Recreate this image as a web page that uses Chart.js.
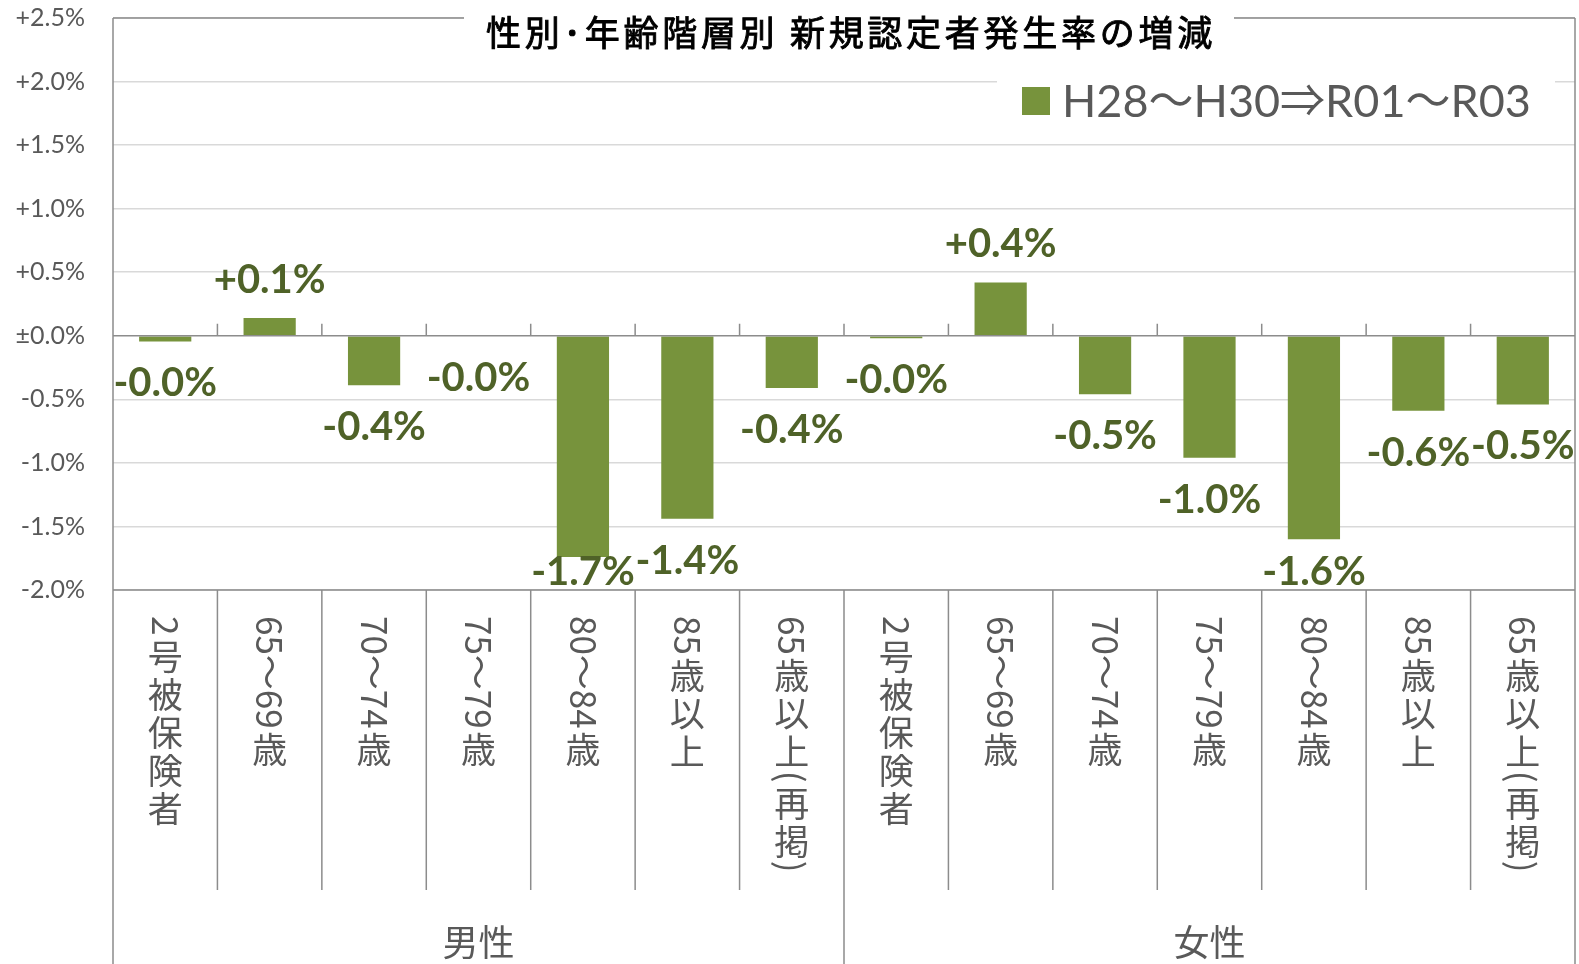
<!DOCTYPE html>
<html lang="ja">
<head>
<meta charset="utf-8">
<title>性別･年齢階層別 新規認定者発生率の増減</title>
<script src="https://cdn.jsdelivr.net/npm/chart.js@4.4.1/dist/chart.umd.min.js"></script>
<style>
html, body { margin: 0; padding: 0; background: #fff; }
#wrap { width: 1579px; height: 964px; }
</style>
</head>
<body>
<div id="wrap"><canvas id="c" width="1579" height="964"></canvas></div>
<script>
// data
var chartTitle = '性別･年齢階層別 新規認定者発生率の増減';
var seriesName = 'H28～H30⇒R01～R03';
var groups = ['男性', '女性'];
var groupSizes = [7, 7];
var ageClasses = ['2号被保険者', '65～69歳', '70～74歳', '75～79歳', '80～84歳', '85歳以上', '65歳以上(再掲)'];
var categories = ageClasses.concat(ageClasses);
var rates = [-0.045, 0.14, -0.39, -0.005, -1.74, -1.44, -0.41, -0.02, 0.42, -0.46, -0.96, -1.60, -0.59, -0.54];
var yTicks = [-2.0, -1.5, -1.0, -0.5, 0, 0.5, 1.0, 1.5, 2.0, 2.5];

var GREY = '#595959';
var LINE = '#8c8c8c';
var BAR = '#77933c';
var LABEL = '#4f6228';

function fmtPct(v) {
  if (v === 0) return '±0.0%';
  return (v > 0 ? '+' : '') + v.toFixed(1) + '%';
}

// upright in vertical writing: kana / kanji, everything else is turned 90deg
function isUpright(ch) {
  return /[\u3040-\u30ff\u3400-\u9fff\uf900-\ufaff]/.test(ch);
}

function drawVertical(ctx, text, cx, top, adv) {
  var yy = top, run = '';
  function flush() {
    if (!run) return;
    ctx.save();
    ctx.translate(cx, yy);
    ctx.rotate(Math.PI / 2);
    ctx.textAlign = 'left';
    ctx.textBaseline = 'middle';
    ctx.fillText(run, 0, 0);
    ctx.restore();
    yy += ctx.measureText(run).width + 2;
    run = '';
  }
  for (var i = 0; i < text.length; i++) {
    var ch = text[i];
    if (isUpright(ch)) {
      flush();
      ctx.textAlign = 'center';
      ctx.textBaseline = 'middle';
      ctx.fillText(ch, cx, yy + adv / 2);
      yy += adv;
    } else {
      run += ch;
    }
  }
  flush();
}

var decor = {
  id: 'decor',
  afterDatasetsDraw: function(chart) {
    var ctx = chart.ctx, a = chart.chartArea;
    var xs = chart.scales.x, ys = chart.scales.y;
    var H = chart.height;
    var n = categories.length;
    var y0 = ys.getPixelForValue(0);
    var bound = function(i) { return (xs.getPixelForValue(i - 1) + xs.getPixelForValue(i)) / 2; };
    var groupEnds = {}, cum = 0;
    groupSizes.forEach(function(g) { cum += g; groupEnds[cum] = true; });

    ctx.save();
    // frame, zero line, ticks, separators
    ctx.strokeStyle = LINE;
    ctx.lineWidth = 1.5;
    ctx.beginPath();
    ctx.moveTo(a.left, a.top); ctx.lineTo(a.right, a.top);
    ctx.moveTo(a.left, a.top); ctx.lineTo(a.left, H);
    ctx.moveTo(a.right, a.top); ctx.lineTo(a.right, H);
    ctx.moveTo(a.left, a.bottom); ctx.lineTo(a.right, a.bottom);
    ctx.moveTo(a.left, y0); ctx.lineTo(a.right, y0);
    for (var i = 1; i < n; i++) {
      var xb = bound(i);
      ctx.moveTo(xb, y0 - 12); ctx.lineTo(xb, y0);
      ctx.moveTo(xb, a.bottom); ctx.lineTo(xb, groupEnds[i] ? H : a.bottom + 300);
    }
    ctx.stroke();

    // data labels
    ctx.font = 'bold 40px Lato, "Noto Sans", sans-serif';
    ctx.fillStyle = LABEL;
    ctx.textAlign = 'center';
    ctx.textBaseline = 'middle';
    rates.forEach(function(v, i) {
      var px = xs.getPixelForValue(i);
      var pe = ys.getPixelForValue(v);
      var py = v > 0 ? pe - 38 : Math.min(pe + 42, a.bottom - 18);
      ctx.fillText(fmtPct(v), px, py);
    });

    // category labels, vertical
    ctx.fillStyle = GREY;
    ctx.font = '35px "Noto Sans CJK JP", sans-serif';
    categories.forEach(function(c, i) {
      drawVertical(ctx, c, xs.getPixelForValue(i), a.bottom + 26, 38);
    });

    // group labels
    ctx.font = '36px "Noto Sans CJK JP", sans-serif';
    ctx.textAlign = 'center';
    ctx.textBaseline = 'middle';
    var start = 0;
    groups.forEach(function(g, k) {
      var end = start + groupSizes[k];
      var gx = (bound(start) + bound(end)) / 2;
      if (start === 0) gx = (a.left + bound(end)) / 2;
      if (end === n) gx = (bound(start) + a.right) / 2;
      ctx.fillText(g, gx, a.bottom + 352);
      start = end;
    });

    // title (regular weight, slightly thickened)
    ctx.fillStyle = '#fff';
    ctx.fillRect(464, 0, 770, a.top + 16);
    ctx.fillStyle = '#000';
    ctx.strokeStyle = '#000';
    ctx.lineWidth = 0.9;
    ctx.font = '35px "Noto Sans CJK JP", sans-serif';
    var w0 = ctx.measureText(chartTitle).width;
    ctx.letterSpacing = ((730 - w0) / chartTitle.length).toFixed(2) + 'px';
    ctx.textAlign = 'left';
    ctx.fillText(chartTitle, 486, 33);
    ctx.strokeText(chartTitle, 486, 33);
    ctx.letterSpacing = '0px';

    // legend
    ctx.fillStyle = '#fff';
    ctx.fillRect(997, 62, 558, 78);
    ctx.fillStyle = BAR;
    ctx.fillRect(1022, 87, 28, 28);
    ctx.fillStyle = GREY;
    ctx.font = '45px Lato, "Noto Sans CJK JP", sans-serif';
    ctx.textAlign = 'left';
    ctx.fillText(seriesName, 1062, 102);
    ctx.restore();
  }
};

new Chart(document.getElementById('c'), {
  type: 'bar',
  data: {
    labels: categories,
    datasets: [{
      label: seriesName,
      data: rates,
      backgroundColor: BAR,
      borderWidth: 0,
      barPercentage: 0.5,
      categoryPercentage: 1.0
    }]
  },
  options: {
    responsive: false,
    devicePixelRatio: 1,
    animation: false,
    layout: { padding: { top: 18, right: 4, left: 0, bottom: 0 } },
    plugins: {
      legend: { display: false },
      title: { display: false },
      tooltip: { enabled: false }
    },
    scales: {
      x: {
        grid: { display: false },
        border: { display: false },
        ticks: { display: false },
        afterFit: function(s) { s.height = 374; }
      },
      y: {
        min: yTicks[0],
        max: yTicks[yTicks.length - 1],
        afterBuildTicks: function(s) {
          s.ticks = yTicks.map(function(v) { return { value: v }; });
        },
        grid: {
          color: function(c) { return c.tick && c.tick.value === 0 ? 'rgba(0,0,0,0)' : '#d9d9d9'; },
          lineWidth: 1.5,
          drawTicks: false
        },
        border: { display: false },
        ticks: {
          padding: 28,
          color: GREY,
          font: { family: 'Lato, "Noto Sans", sans-serif', size: 25 },
          callback: function(v) { return fmtPct(v); }
        },
        afterFit: function(s) { s.width = 113; s.paddingTop = 0; s.paddingBottom = 0; }
      }
    }
  },
  plugins: [decor]
});
</script>
</body>
</html>
